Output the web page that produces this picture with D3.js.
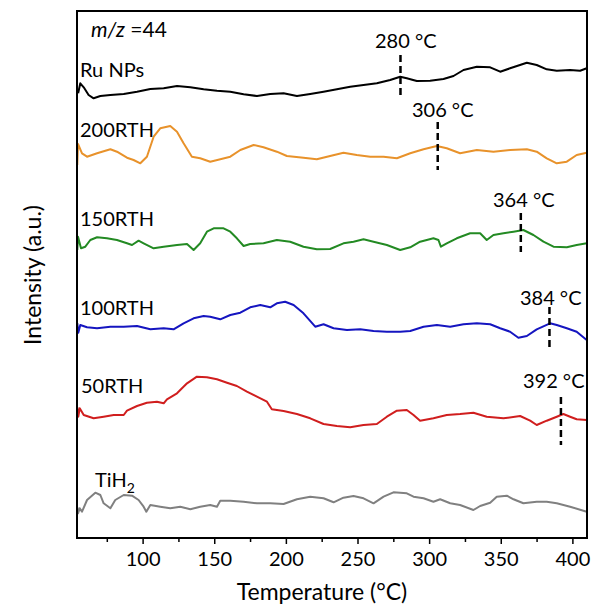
<!DOCTYPE html>
<html><head><meta charset="utf-8">
<script src="https://cdn.jsdelivr.net/npm/d3@7"></script>
<style>body{margin:0;background:#fff} text{font-family:Lato,"Open Sans",sans-serif;fill:#000}</style>
</head><body><svg id="c" width="597" height="607"></svg>
<script>
// ---- data ----
const seriesNames = ["Ru NPs","200RTH","150RTH","100RTH","50RTH","TiH2"];
const seriesColors = ["#000000","#E8922B","#238A23","#1515C0","#D01E1E","#808080"];

const ruT = [55.0,56.5,58.9,62.3,65.8,70.5,77.5,86.8,96.1,105.4,114.7,124.0,133.3,142.6,151.9,161.2,170.5,179.8,189.1,198.4,207.7,217.0,226.3,235.6,244.9,254.2,263.5,272.8,279.8,284.4,291.4,300.7,310.0,317.0,324.0,333.3,342.6,349.6,356.5,368.2,375.1,382.1,389.1,398.4,405.4,410.0];
const ruV = [444.7,454.7,450.7,443,439.7,442,443,444,446.3,449,449.7,452,450.7,448.7,447.3,446.3,443.7,442,444,444.7,442,444,446.3,448.7,451.3,453,454.7,458,461.3,459.7,457,457.3,459,462,468,471.3,470.7,466.3,469.7,475.3,473,468.7,467.3,468,467.3,469.7];

const r200T = [54.4,54.9,57.7,61.2,68.2,77.5,82.1,89.1,93.7,98.4,103.0,107.7,112.3,119.3,124.0,128.6,134.4,140.2,147.2,154.2,161.2,168.2,177.5,184.4,193.7,200.7,212.3,221.6,230.9,240.2,249.5,258.9,268.2,277.5,286.8,296.1,305.4,312.3,321.6,333.3,344.9,356.5,368.2,375.1,382.1,389.1,396.1,403.0,410.0];
const r200V = [373,394,384.7,381.3,384.7,388.7,386.3,380.3,378,374.7,381.3,401.3,409.7,412,406.3,394.7,381.3,379.7,376.3,378.7,381.3,388,393,390.7,386.3,382,380.3,378.7,382,385.3,383,381.3,381.3,379.7,384.7,388.7,392,389.7,384.7,388,386.3,388,388.7,386.3,379.7,374.7,376.3,383,385.3];

const r150T = [54.4,54.9,57.0,60.0,63.5,68.2,75.1,82.1,89.1,92.6,97.2,100.7,107.7,114.7,124.0,131.0,135.6,140.2,144.9,149.6,156.5,161.2,165.8,170.5,175.1,184.4,193.7,203.0,212.3,221.6,230.9,240.2,247.2,254.2,261.2,270.5,279.8,286.8,293.7,303.0,306.5,308.2,312.3,319.3,328.6,335.6,340.2,344.9,351.9,358.9,365.8,372.8,379.8,386.8,396.1,403.0,410.0];
const r150V = [288,301.3,289.7,291.3,298,300.7,299.7,298,294.7,293,297.3,294.7,289.7,291.3,293,294,288,294.7,306.3,309.7,309.7,306.3,299.7,292,294,294.7,298,296.3,291.3,288.7,289,294.7,296.3,298.7,296.3,293,288,290.7,296.3,299.7,298,291.3,294.7,299.7,304.7,304.7,298,303,304.7,306.3,308,303,296.3,291.3,290.7,293,294.7];

const r100T = [54.4,55.1,56.5,61.2,68.2,77.5,86.8,96.1,105.4,114.7,121.6,128.6,135.6,142.6,147.2,154.2,161.2,168.2,175.1,182.1,189.1,193.7,199.5,205.4,212.3,220.5,226.3,233.3,242.6,251.9,261.2,270.5,279.8,286.8,296.1,305.4,314.7,324.0,333.3,342.6,349.6,356.5,362.3,368.2,375.1,384.4,389.1,396.1,403.0,410.0];
const r100V = [215,205.3,213,210.7,209.7,211.3,211.3,212,208.7,209.7,208.7,214.7,219.7,222,221.3,218.7,223,225.3,230.7,233,230.7,234.7,236.3,233,224.7,211.3,213.7,209.7,208,208.7,207,206.3,206.3,207,211.3,213,211.3,213.7,214.7,213.7,209.7,206.3,200.3,202,208.7,214.7,213,209.7,206.3,198];

const r50T = [54.4,55.1,56.1,58.9,65.8,72.8,79.8,86.8,89.1,96.1,103.0,110.0,114.7,117.0,124.0,131.0,137.9,144.9,151.9,158.9,165.8,172.8,179.8,186.8,190.2,198.4,207.7,217.0,226.3,235.6,244.9,254.2,263.5,270.5,277.5,284.4,289.1,293.7,303.0,312.3,321.6,330.9,340.2,351.9,363.5,370.5,375.1,382.1,389.1,393.7,398.4,403.0,410.0];
const r50V = [131,121.3,129.7,123,119.7,121.3,123,123,127.3,132,135.3,136.3,134.7,138.7,144.7,154.7,161.3,160.7,158.7,155.3,152,146.3,141.3,136.3,128.7,127,124,119.7,114,112,110.7,113,114,121.3,127.3,128,123,117.3,119.7,123,124,125.3,121.3,119.7,122,117.3,113,117.3,121.3,124,121.3,118.7,118];

const tiT = [54.4,54.9,56.1,57.7,61.2,67.0,70.5,72.8,77.5,80.9,86.8,92.6,97.2,100.7,102.6,105.4,112.3,119.3,126.3,133.3,140.2,147.2,151.9,154.2,161.2,170.5,179.8,189.1,198.4,207.7,217.0,226.3,233.3,240.2,247.2,254.2,261.2,268.2,275.1,284.4,289.1,296.1,303.0,307.7,314.7,321.6,330.9,335.6,342.6,347.2,354.2,358.9,365.8,375.1,382.1,389.1,398.4,410.0];
const tiV = [31,24.7,29.7,26.3,38,45.3,43,34.7,29.7,38,43,42.3,38,31.3,26.3,33,31.3,29.7,31.3,28.7,31.3,33,31.3,37.3,37.3,36.3,34.7,34.7,34,38.7,41.3,39.7,35.7,40.3,42,39.7,34.7,41.3,45.7,44.7,41.3,39.7,36.3,38.7,34.7,33,28,32,35.3,41.3,42.3,38.7,34.7,36.3,36.3,34.7,31.3,26.3];

const seriesT = [ruT, r200T, r150T, r100T, r50T, tiT];
const seriesV = [ruV, r200V, r150V, r100V, r50V, tiV];

const markerT = [280, 306, 364, 384, 392];
const markerTop = [483, 416, 325, 231, 141];
const markerBottom = [443, 368, 286, 188, 93];
const markerLabels = ["280 °C","306 °C","364 °C","384 °C","392 °C"];
const labelT = [262.2, 288.0, 344.6, 363.4, 365.5];
const labelV = [490, 421, 331, 233, 150];

const xTicks = [100,150,200,250,300,350,400];
const xMinor = [75,125,175,225,275,325,375];

// ---- layout ----
const L = 77, R = 587, T = 11, B = 538;
const svg = d3.select("#c");
const x = d3.scaleLinear().domain([54.2, 410.2]).range([L, R]);
const y = d3.scaleLinear().domain([0, 527]).range([B, T]);

svg.append("defs").append("clipPath").attr("id","clip")
  .append("rect").attr("x",L).attr("y",T).attr("width",R-L).attr("height",B-T);

const line = d3.line().x(d=>x(d[0])).y(d=>y(d[1]));
const g = svg.append("g").attr("clip-path","url(#clip)");
seriesT.forEach((ts,i)=>{
  const pts = ts.map((t,j)=>[t, seriesV[i][j]]);
  g.append("path").datum(pts).attr("d",line)
    .attr("fill","none").attr("stroke",seriesColors[i]).attr("stroke-width",2)
    .attr("stroke-linejoin","round");
});

// markers
markerT.forEach((t,i)=>{
  svg.append("line").attr("x1",x(t)).attr("x2",x(t))
    .attr("y1",y(markerTop[i])).attr("y2",y(markerBottom[i]))
    .attr("stroke","#000").attr("stroke-width",2.5).attr("stroke-dasharray","7,4");
  svg.append("text").attr("x",x(labelT[i])).attr("y",y(labelV[i]))
    .attr("font-size",20).text(markerLabels[i]);
});

// series labels
const labelPos = [[80,77],[80,137],[80,226],[80,315],[81,393],[95,487]];
seriesNames.forEach((n,i)=>{
  const t = svg.append("text").attr("x",labelPos[i][0]).attr("y",labelPos[i][1]).attr("font-size",20);
  if(n==="TiH2"){
    t.append("tspan").text("TiH");
    t.append("tspan").attr("font-size",14).attr("dy",6).text("2");
  } else t.text(n);
});

// m/z label
const mz = svg.append("text").attr("x",91).attr("y",37).attr("font-size",21);
mz.append("tspan").attr("font-style","italic").text("m/z");
mz.append("tspan").text(" =44");

// x axis
const ax = svg.append("g").attr("transform",`translate(0,${B})`)
  .call(d3.axisBottom(x).tickValues(xTicks).tickSize(6).tickPadding(8).tickFormat(d3.format("d")));
ax.select(".domain").remove();
ax.selectAll("line").attr("stroke","#000").attr("stroke-width",1.5);
ax.selectAll("text").attr("font-size",20).attr("font-family","Lato");
svg.append("g").attr("transform",`translate(0,${B})`)
  .call(d3.axisBottom(x).tickValues(xMinor).tickSize(4).tickFormat(""))
  .call(s=>{s.select(".domain").remove(); s.selectAll("line").attr("stroke","#000").attr("stroke-width",1.5);});

// frame
svg.append("rect").attr("x",L).attr("y",T).attr("width",R-L).attr("height",B-T)
  .attr("fill","none").attr("stroke","#000").attr("stroke-width",2);

// axis titles
svg.append("text").attr("x",322).attr("y",600).attr("text-anchor","middle").attr("font-size",23)
  .text("Temperature (°C)");
svg.append("text").attr("transform","translate(41,275) rotate(-90)").attr("text-anchor","middle")
  .attr("font-size",23).text("Intensity (a.u.)");
</script></body></html>
